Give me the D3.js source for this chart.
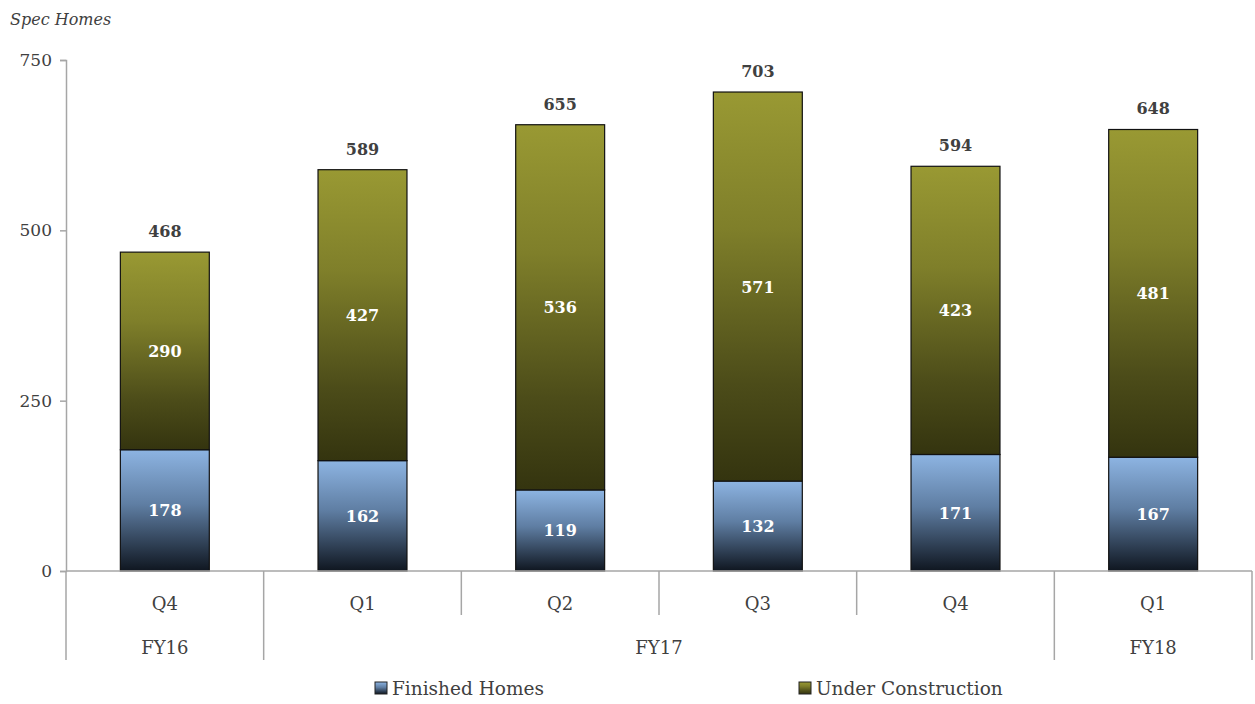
<!DOCTYPE html>
<html>
<head>
<meta charset="utf-8">
<script src="https://cdn.jsdelivr.net/npm/d3@7"></script>
<style>
  body { margin: 0; background: #fff; }
  svg { display: block; }
  text { font-family: "DejaVu Serif", "Liberation Serif", serif; }
</style>
</head>
<body>
<div id="vis"></div>
<script>
// chart data
var quarters = ["Q4", "Q1", "Q2", "Q3", "Q4", "Q1"];
var fiscalYears = [
  { label: "FY16", from: 0, to: 1 },
  { label: "FY17", from: 1, to: 5 },
  { label: "FY18", from: 5, to: 6 }
];
var finishedHomes = [178, 162, 119, 132, 171, 167];
var underConstruction = [290, 427, 536, 571, 423, 481];
var yTicks = [0, 250, 500, 750];
var seriesNames = ["Finished Homes", "Under Construction"];

var svgWidth = 1255, svgHeight = 704;
var plotLeft = 66, plotRight = 1252, plotTop = 60, plotBottom = 571;
var axisColour = "#a6a6a6";
var textColour = "#404040";

var svg = d3.select("#vis").append("svg")
  .attr("width", svgWidth)
  .attr("height", svgHeight);

// gradients for the two series
var defs = svg.append("defs");
function makeGradient(id, stops) {
  var grad = defs.append("linearGradient")
    .attr("id", id)
    .attr("x1", 0).attr("y1", 0).attr("x2", 0).attr("y2", 1);
  stops.forEach(function (s) {
    grad.append("stop").attr("offset", s[0]).attr("stop-color", s[1]);
  });
}
makeGradient("gradFinished", [[0, "#8db4e2"], [0.45, "#5f7ea3"], [1, "#0f1620"]]);
makeGradient("gradUnder", [[0, "#999933"], [0.35, "#7f7f2a"], [0.75, "#4c4c19"], [1, "#34340f"]]);

var x = d3.scaleBand()
  .domain(d3.range(quarters.length))
  .range([plotLeft, plotRight])
  .paddingInner(0)
  .paddingOuter(0);

var y = d3.scaleLinear()
  .domain([0, 750])
  .range([plotBottom, plotTop]);

var barWidth = x.bandwidth() * 0.45;

// y axis
var yAxis = svg.append("g")
  .attr("transform", "translate(" + plotLeft + ",0)")
  .call(d3.axisLeft(y).tickValues(yTicks).tickSize(6).tickPadding(8));
yAxis.select(".domain").attr("stroke", axisColour).attr("stroke-width", 1.5);
yAxis.selectAll(".tick line").attr("stroke", axisColour).attr("stroke-width", 1.5);
yAxis.selectAll(".tick text")
  .attr("font-family", "DejaVu Serif")
  .attr("font-size", 17)
  .attr("fill", textColour);

// axis title
svg.append("text")
  .attr("x", 10)
  .attr("y", 25)
  .attr("font-style", "italic")
  .attr("font-size", 16)
  .attr("fill", textColour)
  .text("Spec Homes");

// bars
var bars = svg.append("g");
quarters.forEach(function (q, i) {
  var bx = x(i) + (x.bandwidth() - barWidth) / 2;
  var f = finishedHomes[i], u = underConstruction[i];
  bars.append("rect")
    .attr("x", bx).attr("y", y(f))
    .attr("width", barWidth).attr("height", y(0) - y(f))
    .attr("fill", "url(#gradFinished)")
    .attr("stroke", "#111").attr("stroke-width", 1.2);
  bars.append("rect")
    .attr("x", bx).attr("y", y(f + u))
    .attr("width", barWidth).attr("height", y(f) - y(f + u))
    .attr("fill", "url(#gradUnder)")
    .attr("stroke", "#111").attr("stroke-width", 1.2);

  var cx = x(i) + x.bandwidth() / 2;
  bars.append("text")
    .attr("x", cx).attr("y", (y(0) + y(f)) / 2 + 6)
    .attr("text-anchor", "middle")
    .attr("font-weight", "bold").attr("font-size", 16)
    .attr("fill", "#ffffff")
    .text(f);
  bars.append("text")
    .attr("x", cx).attr("y", (y(f) + y(f + u)) / 2 + 6)
    .attr("text-anchor", "middle")
    .attr("font-weight", "bold").attr("font-size", 16)
    .attr("fill", "#ffffff")
    .text(u);
  bars.append("text")
    .attr("x", cx).attr("y", y(f + u) - 15)
    .attr("text-anchor", "middle")
    .attr("font-weight", "bold").attr("font-size", 16)
    .attr("fill", textColour)
    .text(f + u);
});

// x axis with two-level categories
var xg = svg.append("g");
xg.append("line")
  .attr("x1", plotLeft).attr("x2", plotRight)
  .attr("y1", plotBottom).attr("y2", plotBottom)
  .attr("stroke", axisColour).attr("stroke-width", 1.5);

var yearEdges = [];
fiscalYears.forEach(function (fy) { yearEdges.push(fy.from, fy.to); });
d3.range(quarters.length + 1).forEach(function (i) {
  var edge = i < quarters.length ? x(i) : plotRight;
  var long = yearEdges.indexOf(i) >= 0;
  xg.append("line")
    .attr("x1", edge).attr("x2", edge)
    .attr("y1", plotBottom).attr("y2", long ? 660 : 615)
    .attr("stroke", axisColour).attr("stroke-width", 1.5);
});

xg.selectAll(".qlabel")
  .data(quarters)
  .enter().append("text")
  .attr("class", "qlabel")
  .attr("x", function (d, i) { return x(i) + x.bandwidth() / 2; })
  .attr("y", 610)
  .attr("text-anchor", "middle")
  .attr("font-size", 18)
  .attr("fill", textColour)
  .text(function (d) { return d; });

xg.selectAll(".fylabel")
  .data(fiscalYears)
  .enter().append("text")
  .attr("class", "fylabel")
  .attr("x", function (d) {
    var x0 = x(d.from);
    var x1 = d.to < quarters.length ? x(d.to) : plotRight;
    return (x0 + x1) / 2;
  })
  .attr("y", 654)
  .attr("text-anchor", "middle")
  .attr("font-size", 18)
  .attr("fill", textColour)
  .text(function (d) { return d.label; });

// legend
var legendX = [375, 799];
var legendFills = ["url(#gradFinished)", "url(#gradUnder)"];
seriesNames.forEach(function (name, i) {
  var lg = svg.append("g").attr("transform", "translate(" + legendX[i] + ",682)");
  lg.append("rect")
    .attr("width", 12).attr("height", 12)
    .attr("fill", legendFills[i])
    .attr("stroke", "#222").attr("stroke-width", 1);
  lg.append("text")
    .attr("x", 17).attr("y", 13)
    .attr("font-size", 18.5)
    .attr("fill", textColour)
    .text(name);
});
</script>
</body>
</html>
